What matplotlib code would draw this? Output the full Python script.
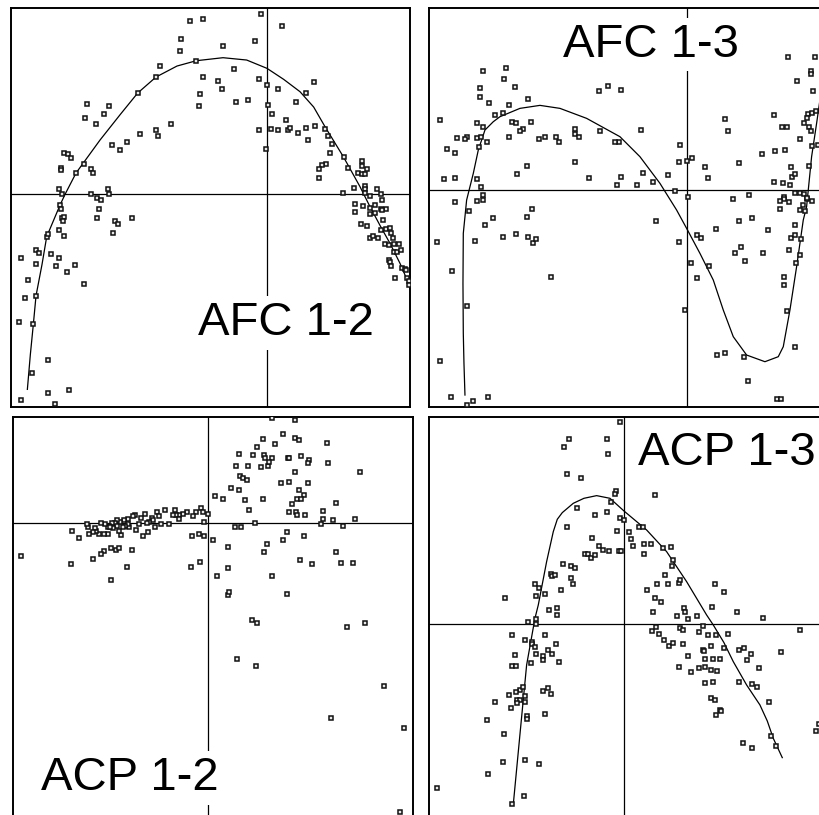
import matplotlib
matplotlib.use("Agg")
import matplotlib.pyplot as plt

# ---------------- AFC 1-2 (top left) ----------------
afc12_x = [-232, -193, -19, 44, -257, -36, -132, -260, -212, -320, -100, -333, -192, -148, -24, 140, 0, -136, 32,
           -388, -200, 116, -541, -473, -204, -92, -56, 88, 4, -489, -545, 16, -513, -288, 56, -332, -328, -380,
           -24, 12, 32, 64, 68, 116, 144, 174, 92, 184, -464, -420, -440, 196, 124, -4, -610, -598, -588, 188, 230,
           -617, -617, -549, -529, -521, -573, 177, 165, 157, 244, 157, 285, 285, 301, 273, 285, 293, -625, -478,
           -614, -529, -473, 293, 261, 293, 329, 229, 293, 309, 341, 345, -509, -498,
           -621, -617, -505, -509, -614, -609, -613, -456, -448, -404, -461, -625, -609, -661, -657, -693, -685,
           -649, -737, -625, -693, -633, -577, -601, -717, -549, -725, -693, -745, -701, -657, -705, -657, -593,
           -737, -637,
           265, 289, 309, 325, 341, 357, 265, 309, 325, 345, 349, 281, 301, 341, 357, 369, 373, 333, 309, 317, 377,
           353, 365, 381, 397, 381, 389, 401, 365, 369, 373, 405, 413, 417, 385, 421, 425, 425]
afc12_y = [521, 525, 541, 505, 465, 461, 445, 429, 401, 385, 377, 352, 352, 340, 345, 337, 328, 316, 316,
           304, 300, 304, 272, 264, 264, 276, 284, 276, 268, 240, 228, 240, 212, 212, 224, 192, 176, 180,
           192, 196, 192, 192, 200, 200, 204, 196, 184, 176, 148, 156, 132, 152, 164, 136, 124, 120, 108, 124, 112,
           80, 72, 92, 76, 64, 64, 92, 88, 76, 80, 48, 100, 84, 76, 64, 60, 60, 16, 16,
           0, 0, 0, 26, 20, 16, 16, 4, 4, -4, 0, -16, -12, -16,
           -32, -44, -44, -72, -72, -68, -80, -80, -88, -72, -116, -108, -124, -128, -120, -168, -176,
           -180, -192, -192, -208, -216, -212, -232, -256, -268, -312, -304, -384, -388, -497, -537, -597, -586,
           -617, -630,
           -28, -36, -40, -32, -44, -44, -52, -60, -56, -48, -76, -88, -96, -108, -104, -100, -116, -132, -132, -124, -132,
           -148, -152, -148, -148, -172, -172, -168, -196, -204, -216, -220, -224, -228, -252, -252, -260, -272]
afc12_curve_x = [-719, -710, -701, -693, -675, -661, -621, -606, -573, -501, -440, -388, -333, -270, -212, -132,
                 -61, 0, 50, 99, 140, 174, 229, 279, 309, 340, 369, 399, 427]
afc12_curve_y = [-585, -480, -389, -304, -210, -127, -32, 0, 64, 163, 240, 304, 352, 385, 401, 410,
                 403, 378, 345, 308, 262, 203, 113, 23, -37, -95, -147, -207, -272]

# ---------------- AFC 1-3 (top right) ----------------
afc13_x = [-740, -612, -543, -547, -620, -516, -620, -592, -476, -532, -576, -552, -628, -612, -660, -628, -616,
           -600, -688, -664, -720, -696, -728, -696, -624, -628, -616, -524, -512, -492, -468, -500, -532, -392,
           -336, -336, -324, -444, -424, -384, -480, -508, -336, -260, -204, -216, -136, -264, -236, -196, -292,
           -196, -132, -100, -148, -208, -56, -20, -24, 0, 16, -36, 4, 56, 64, 116, 124, 156, 226, 264, 296, 262,
           286, 302, 304, 384, 372, 372, 332, 380, 364, 376, 388, 360, 352, 368, 372, 340, 376, 394, 368, 312, 316,
           324, 262, 290, 310, 324, 340, 352, 360, 292, 292, 362, 140, 188, -612,
           -696, -628, -612, -652, -464, -480, -580, -604, -748, -636, -552, -512, -476, -460, -452, -704, -408,
           -660, -740, -708, -660, -640, -596, -92, -24, -4, 280, 308, 280, 156, 196, 88, 244, 324, 340, 356, 348,
           376, 32, 44, 312, 324, 344, 144, 164, 228, 176, 308, 340, 328, 12, 68, 32, 292, 292, 300, 324, 92, 116,
           172, 184, 272, 284]
afc13_y = [209, 357, 365, 332, 305, 308, 280, 260, 272, 256, 224, 232, 200, 188, 160, 156, 160,
           144, 156, 152, 124, 112, 32, 36, 128, 32, 8, 204, 200, 184, 204, 176, 160, 160,
           184, 168, 160, 152, 160, 144, 72, 48, 84, 176, 144, 144, 180, 296, 312, 300, 36,
           40, 52, 24, 16, 16, 44, 136, 84, 88, 96, -4, -20, 68, 36, 212, 176, 80, 108, 116, 120, 224,
           188, 188, 400, 400, 356, 348, 328, 296, 228, 232, 236, 216, 200, 188, 176, 152, 132, 136, 72, 68, 40,
           48, 24, 20, 16, -8, -8, -12, -28, -20, -28, -24, -28, -16, -16,
           -36, -32, -30, -64, -56, -80, -84, -104, -156, -152, -140, -132, -140, -160, -148, -244, -260,
           -348, -512, -620, -644, -632, -620, -92, -156, -360, -32, -36, -56, -92, -84, -116, -120, -104, -60, -64, -44,
           -32, -136, -144, -144, -136, -148, -188, -172, -188, -212, -180, -196, -220, -220, -228, -264, -260, -284, -364, -472, -496, -488,
           -500, -572, -628, -628]
afc13_curve_x = [-665, -668, -670, -671, -670, -660, -640, -625, -605, -580, -560, -500, -440, -380, -300, -200,
                 -140, -80, -30, 0, 40, 80, 110, 140, 180, 235, 275, 290, 310, 330, 350, 360, 375, 390, 400, 410]
afc13_curve_y = [-615, -520, -430, -280, -130, -30, 50, 120, 180, 205, 220, 245, 254, 245, 215, 160,
                 100, 20, -60, -115, -190, -270, -360, -440, -495, -515, -500, -470, -360, -230, -90, -50, 100, 200, 270, 330]

# ---------------- ACP 1-2 (bottom left) ----------------
acp12_x = [192, 260, 224, 164, 200, 260, 272, 356, 148, 92, 136, 168, 172, 192, 240, 244, 280, 304, 300, 360, 84,
           120, 160, 180, 184, 260, 456, 96, 104, 116, 220, 244, 300, 68, 92, 272, 288, 20, 44, 112, 164, 252, 268,
           280, 384, 124, 244, 264, 268, 292, 344, 344, 376, 440, 404, 340, 140, 80, 100, 236, 288, 224, 16, 176,
           60, 168, 384, 276, 312, 400, 436, 60, 28, 192, 236, 60, 64,
           -20, -16, 0, -36, -44, -64, -76, -88, -96, -104, -88, -100, -128, -152, -148, -168, -164, -176, -188,
           -200, -220, -224, -240, -252, -264, -272, -280, -288, -296, -300, -308, -320, -12, -116, -140, -160,
           -184, -208, -216, -236, -240, -248, -256, -262, -272, -284, -294, -300, -312, -328, -336, -340, -344,
           -360, -364, -356, -408, -388, -268, -180, -196, -48, -28, -12, -292, -276, -268, -312, -320, -228, -344,
           -412, -244, -52, -24, -292, -560,
           132, 148, 416, 472, 88, 144, 528, 368, 588, 576]
acp12_y = [315, 309, 267, 251, 235, 255, 247, 239, 227, 207, 203, 203, 193, 195, 195, 193, 199, 187, 179, 179, 171,
           171, 167, 171, 183, 151, 151, 139, 135, 127, 119, 123, 119, 103, 99, 99, 83, 79, 71, 67, 71, 55, 71,
           71, 59, 39, 31, 31, 23, 23, 35, 11, 7, 11, -9, -5, -1, -13, -13, -29, -41, -53, -53, -65,
           -73, -89, -89, -113, -125, -121, -121, -137, -161, -161, -213, -217, -209,
           43, 31, 27, 31, 19, 31, 27, 23, 23, 23, 11, 39, 39, 31, 19, 15, 7, 3, 27,
           15, 23, 19, 11, 7, 3, 7, -1, -1, -9, -13, -5, -1, 3, -5, -5, -13,
           -1, -5, -21, -13, -5, -9, -13, -37, -9, -17, -13, -33, -33, -33, -25, -17, -29,
           -13, -5, -33, -25, -45, -25, -29, -41, -41, -33, -41, -77, -81, -77, -85, -93, -81, -109,
           -125, -133, -133, -117, -173, -101,
           -293, -301, -313, -301, -409, -429, -489, -585, -617, -869]

# ---------------- ACP 1-3 (bottom right) ----------------
acp13_x = [-12, -164, -180, -52, -48, -172, -128, 92, -24, -28, -40, -140, -88, -52, -172, -12, 0, -20, 16, 44, 56,
           20, -96, -76, -64, -44, -16, -8, 28, 60, 60, 80, 116, 140, -116, -108, -100, -88, 148, 144, -184, -160,
           -148, -220, -216, -208, -160, -152, -188, -268, -256, -264, -236, -356, 124, 100, 132, 164, 168, 68,
           272, 300, 92, 112,
           -224, -200, -200, -288, -264, -264, 88, 180, 184, 160, 192, 220, 264, 340, 416, 84, 96, 104, 168, 176,
           224, 236, 252, 276, 312, 528, 120, 136, 148, 176, 260, 236, 240, 300, 344, 360, 380, 368, 472, 192, 244,
           268, 288, 164, 200, 224, 244, 260, 280, 404, 244, 268, 344, 384, 400, 436, 260, 272, 288, 292, 276, 356,
           384, 440, 456, 576, 586,
           -336, -296, -276, -276, -268, -264, -236, -204, -228, -216, -244, -244, -196, -280, -328, -336, -324,
           -312, -304, -324, -344, -296, -296, -320, -312, -320, -388, -340, -244, -228, -220, -236, -292, -292,
           -412, -360, -364, -296, -256, -408, -560, -300, -336]
acp13_y = [608, 556, 532, 556, 512, 452, 440, 388, 400, 392, 368, 348, 328, 336, 292, 320, 312, 280, 276, 292, 292,
           256, 260, 236, 224, 220, 220, 220, 236, 240, 212, 240, 228, 232, 212, 212, 200, 208, 192, 176, 180, 176,
           168, 152, 144, 148, 140, 120, 104, 120, 108, 84, 92, 80, 148, 120, 120, 124, 132, 104,
           120, 96, 80, 68,
           44, 48, 28, 8, 16, 0, 36, 48, 36, 24, 16, 24, 52, 36, 20, -20, -8, -28, -12, -16,
           -24, -4, -32, -32, -28, -16, -48, -64, -56, -60, -64, -76, -80, -72, -76, -72, -88, -108, -84, -96, -104,
           -104, -104, -128, -144, -132, -128, -136, -140, -132, -176, -172, -172, -180, -188, -232, -220, -228, -256, -260, -272, -356,
           -372, -336, -364, -320, -300,
           -32, -48, -52, -60, -68, -88, -32, -60, -76, -88, -96, -108, -112, -116, -92, -124, -124,
           -196, -188, -204, -212, -216, -232, -228, -228, -236, -232, -252, -200, -192, -208, -268, -276, -284,
           -288, -328, -412, -408, -420, -448, -492, -516, -540]
acp13_curve_x = [-332, -312, -292, -267, -257, -232, -212, -200, -185, -152, -120, -82, -42, 0, 68, 128, 188, 248,
                 268, 300, 328, 368, 408, 430, 448, 475]
acp13_curve_y = [-540, -330, -122, 18, 58, 188, 278, 315, 335, 363, 378, 386, 378, 340, 283, 218, 128, 28,
                 -2, -55, -112, -182, -242, -290, -342, -400]

W, H = 819, 815
fig = plt.figure(figsize=(W / 100, H / 100), dpi=100)
fig.patch.set_facecolor("white")

FONT = ["Liberation Sans", "DejaVu Sans"]


def panel(box, xlim, ylim, xs, ys, cx, cy, label, lpos):
    left, top, right, bottom = box
    ax = fig.add_axes([left / W, 1 - bottom / H, (right - left) / W, (bottom - top) / H])
    ax.set_xlim(*xlim)
    ax.set_ylim(*ylim)
    ax.set_xticks([])
    ax.set_yticks([])
    for s in ax.spines.values():
        s.set_linewidth(1.4)
        s.set_color("black")
    ax.axhline(0, color="black", lw=0.9, zorder=1)
    ax.axvline(0, color="black", lw=0.9, zorder=1)
    if cx is not None:
        ax.plot(cx, cy, color="black", lw=0.9, zorder=2)
    ax.plot(xs, ys, linestyle="none", marker="s", markersize=3.3, markerfacecolor="#e8e8e8",
            markeredgecolor="#111111", markeredgewidth=1.1, zorder=3, clip_on=True)
    ax.text(lpos[0], lpos[1], label, ha="center", va="baseline", fontsize=34, family=FONT,
            zorder=5, bbox=dict(boxstyle="square,pad=0.1", facecolor="white", edgecolor="none"))
    return ax


panel((10.7, 7.7, 410.0, 406.7), (-769, 429), (-637, 560), afc12_x, afc12_y,
      afc12_curve_x, afc12_curve_y, "AFC 1-2", (56, -422))
panel((429.3, 7.7, 828.6, 406.7), (-772, 426), (-650, 547), afc13_x, afc13_y,
      afc13_curve_x, afc13_curve_y, "AFC 1-3", (-107, 400))
panel((13.3, 417.3, 412.7, 816.3), (-584, 614), (-881, 316), acp12_x, acp12_y,
      None, None, "ACP 1-2", (-234, -802))
panel((429.3, 417.3, 828.6, 816.3), (-584, 614), (-576, 621), acp13_x, acp13_y,
      acp13_curve_x, acp13_curve_y, "ACP 1-3", (308, 478))

fig.savefig("out.png", dpi=100, facecolor="white")
